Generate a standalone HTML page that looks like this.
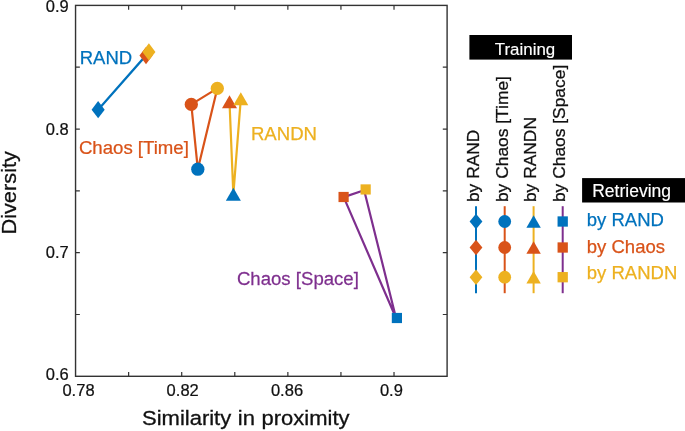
<!DOCTYPE html><html><head><meta charset="utf-8"><style>html,body{margin:0;padding:0;background:#fff}svg{display:block;will-change:transform}text{font-family:"Liberation Sans",sans-serif}</style></head><body>
<svg width="685" height="431" viewBox="0 0 685 431">
<rect width="685" height="431" fill="#fff"/>
<rect x="75.55" y="5.4" width="371.55" height="370.90000000000003" fill="none" stroke="#333" stroke-width="1.4"/>
<path d="M128.63 376.3v-4.3M128.63 5.4v4.3M181.71 376.3v-4.3M181.71 5.4v4.3M234.79 376.3v-4.3M234.79 5.4v4.3M287.86 376.3v-4.3M287.86 5.4v4.3M340.94 376.3v-4.3M340.94 5.4v4.3M394.02 376.3v-4.3M394.02 5.4v4.3M75.55 67.22h4.3M447.1 67.22h-4.3M75.55 129.03h4.3M447.1 129.03h-4.3M75.55 190.85h4.3M447.1 190.85h-4.3M75.55 252.67h4.3M447.1 252.67h-4.3M75.55 314.48h4.3M447.1 314.48h-4.3" stroke="#333" stroke-width="1.2" fill="none"/>
<text transform="translate(68.7,12.45) scale(1.02,1)" font-size="16.2" fill="#111" stroke="#111" stroke-width="0.22" text-anchor="end">0.9</text>
<text transform="translate(68.7,134.6) scale(1.02,1)" font-size="16.2" fill="#111" stroke="#111" stroke-width="0.22" text-anchor="end">0.8</text>
<text transform="translate(68.7,257.6) scale(1.02,1)" font-size="16.2" fill="#111" stroke="#111" stroke-width="0.22" text-anchor="end">0.7</text>
<text transform="translate(68.7,379.7) scale(1.02,1)" font-size="16.2" fill="#111" stroke="#111" stroke-width="0.22" text-anchor="end">0.6</text>
<text transform="translate(78.5,396.1) scale(1.02,1)" font-size="16.2" fill="#111" stroke="#111" stroke-width="0.22" text-anchor="middle">0.78</text>
<text transform="translate(182.7,396.1) scale(1.02,1)" font-size="16.2" fill="#111" stroke="#111" stroke-width="0.22" text-anchor="middle">0.82</text>
<text transform="translate(287.0,396.1) scale(1.02,1)" font-size="16.2" fill="#111" stroke="#111" stroke-width="0.22" text-anchor="middle">0.86</text>
<text transform="translate(391.4,396.1) scale(1.02,1)" font-size="16.2" fill="#111" stroke="#111" stroke-width="0.22" text-anchor="middle">0.9</text>
<text word-spacing="0.45" transform="translate(142,425) scale(1.095,1)" font-size="20.1" fill="#111" stroke="#111" stroke-width="0.3" text-anchor="start">Similarity in proximity</text>
<text transform="translate(15.8,234.6) rotate(-90) scale(1.043,1)" font-size="20.9" fill="#111" stroke="#111" stroke-width="0.3" text-anchor="start">Diversity</text>
<path d="M98.15 109.7L146.0 55.6L148.9 51.9Z" fill="none" stroke="#0072BD" stroke-width="2.2" stroke-linejoin="round"/>
<path d="M98.15 101.10000000000001L104.7 109.7L98.15 118.3L91.60000000000001 109.7Z" fill="#0072BD"/>
<path d="M146.0 47.0L152.55 55.6L146.0 64.2L139.45 55.6Z" fill="#D95319"/>
<path d="M148.9 43.3L155.45000000000002 51.9L148.9 60.5L142.35 51.9Z" fill="#EDB120"/>
<path d="M197.8 169.2L191.3 104.4L217.3 88.4Z" fill="none" stroke="#D95319" stroke-width="2.2" stroke-linejoin="round"/>
<circle cx="197.8" cy="169.2" r="6.65" fill="#0072BD"/>
<circle cx="191.3" cy="104.4" r="6.65" fill="#D95319"/>
<circle cx="217.3" cy="88.4" r="6.65" fill="#EDB120"/>
<path d="M229.5 101.75L233.35 194.35L240.8 98.8" fill="none" stroke="#EDB120" stroke-width="2.2" stroke-linejoin="round"/>
<path d="M233.35 187.85L240.85 200.85L225.85 200.85Z" fill="#0072BD"/>
<path d="M229.5 95.25L237.0 108.25L222.0 108.25Z" fill="#D95319"/>
<path d="M240.8 92.3L248.3 105.3L233.3 105.3Z" fill="#EDB120"/>
<path d="M396.0 318.0L343.7 197.1L364.15 190.2Z" fill="none" stroke="#7E2F8E" stroke-width="2.2" stroke-linejoin="round"/>
<rect x="391.79999999999995" y="312.9" width="10.2" height="10.2" fill="#0072BD"/>
<rect x="338.5" y="191.9" width="10.2" height="10.2" fill="#D95319"/>
<rect x="360.54999999999995" y="184.35" width="10.2" height="10.2" fill="#EDB120"/>
<text transform="translate(79.7,63.9)" font-size="18.5" fill="#0072BD" stroke="#0072BD" stroke-width="0.25" text-anchor="start">RAND</text>
<text transform="translate(78.9,153.5) scale(0.98,1)" font-size="19.0" fill="#D95319" stroke="#D95319" stroke-width="0.25" text-anchor="start">Chaos [Time]</text>
<text transform="translate(250.9,139.8)" font-size="18.6" fill="#EDB120" stroke="#EDB120" stroke-width="0.25" text-anchor="start">RANDN</text>
<text transform="translate(236.9,285.3) scale(0.987,1)" font-size="18.85" fill="#7E2F8E" stroke="#7E2F8E" stroke-width="0.25" text-anchor="start">Chaos [Space]</text>
<rect x="469.4" y="35" width="102.6" height="24.6" fill="#000"/>
<text transform="translate(494.8,54.7)" font-size="16.9" fill="#fff" stroke="#fff" stroke-width="0.15" text-anchor="start">Training</text>
<text transform="translate(479.35,202.05) rotate(-90)" font-size="17.4" fill="#111" stroke="#111" stroke-width="0.28" text-anchor="start">by RAND</text>
<text transform="translate(507.9,202.05) rotate(-90)" font-size="17.4" fill="#111" stroke="#111" stroke-width="0.28" text-anchor="start">by Chaos [Time]</text>
<text transform="translate(536.2,202.05) rotate(-90)" font-size="17.4" fill="#111" stroke="#111" stroke-width="0.28" text-anchor="start">by RANDN</text>
<text transform="translate(564.7,202.05) rotate(-90)" font-size="17.4" fill="#111" stroke="#111" stroke-width="0.28" text-anchor="start">by Chaos [Space]</text>
<path d="M476.0 206.2V293.2" stroke="#0072BD" stroke-width="2"/>
<path d="M504.7 206.2V293.2" stroke="#D95319" stroke-width="2"/>
<path d="M533.6 206.2V293.2" stroke="#EDB120" stroke-width="2"/>
<path d="M562.7 206.2V293.2" stroke="#7E2F8E" stroke-width="2"/>
<path d="M476.0 213.8L482.4 221.5L476.0 229.2L469.6 221.5Z" fill="#0072BD"/>
<circle cx="504.7" cy="221.5" r="6.4" fill="#0072BD"/>
<path d="M533.6 215.2L540.8000000000001 227.8L526.4 227.8Z" fill="#0072BD"/>
<rect x="557.5500000000001" y="216.35" width="10.3" height="10.3" fill="#0072BD"/>
<path d="M476.0 239.8L482.4 247.5L476.0 255.2L469.6 247.5Z" fill="#D95319"/>
<circle cx="504.7" cy="247.5" r="6.4" fill="#D95319"/>
<path d="M533.6 241.2L540.8000000000001 253.8L526.4 253.8Z" fill="#D95319"/>
<rect x="557.5500000000001" y="242.35" width="10.3" height="10.3" fill="#D95319"/>
<path d="M476.0 269.5L482.4 277.2L476.0 284.9L469.6 277.2Z" fill="#EDB120"/>
<circle cx="504.7" cy="277.2" r="6.4" fill="#EDB120"/>
<path d="M533.6 270.9L540.8000000000001 283.5L526.4 283.5Z" fill="#EDB120"/>
<rect x="557.5500000000001" y="272.05" width="10.3" height="10.3" fill="#EDB120"/>
<rect x="582.1" y="178.1" width="103" height="24.4" fill="#000"/>
<text transform="translate(592.2,196.8)" font-size="17.5" fill="#fff" stroke="#fff" stroke-width="0.15" text-anchor="start">Retrieving</text>
<text transform="translate(586.8,226.3)" font-size="18.5" fill="#0072BD" stroke="#0072BD" stroke-width="0.25" text-anchor="start">by RAND</text>
<text transform="translate(586.8,252.5)" font-size="18.5" fill="#D95319" stroke="#D95319" stroke-width="0.25" text-anchor="start">by Chaos</text>
<text transform="translate(586.8,279.1)" font-size="18.5" fill="#EDB120" stroke="#EDB120" stroke-width="0.25" text-anchor="start">by RANDN</text>
</svg></body></html>
